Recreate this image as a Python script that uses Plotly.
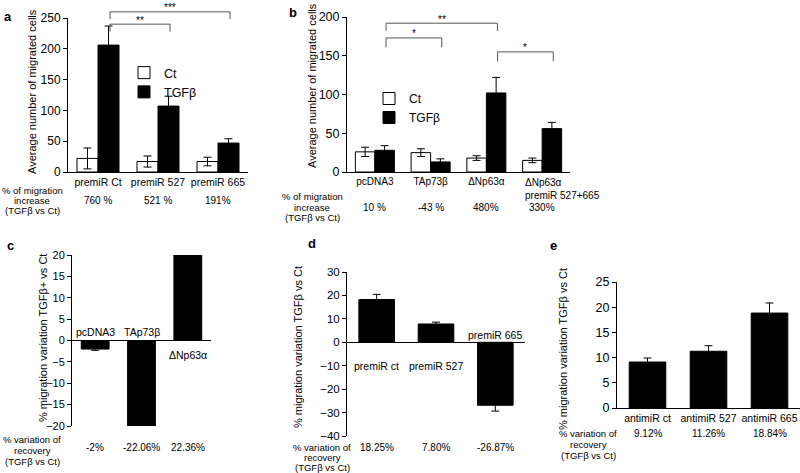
import plotly.graph_objects as go

W, H = 800, 473
FONT = "Liberation Sans, Arial, sans-serif"

# ---------------- data ----------------
a_categories = ["premiR Ct", "premiR 527", "premiR 665"]
a_ct = [22, 17, 17]
a_ct_err = [17, 9, 7]
a_tgf = [206, 107, 47]
a_tgf_err = [31, 16, 7]
a_increase = ["760 %", "521 %", "191%"]
a_ticks = [0, 50, 100, 150, 200, 250]
# significance brackets: (from category, to category, label, bracket level, leg bottom)
a_sig = [(0, 1, "**", 240, 228), (0, 2, "***", 260, 248)]

b_categories = ["pcDNA3", "TAp73β", "ΔNp63α", "ΔNp63α premiR 527+665"]
b_ticklabels = ["pcDNA3", "TAp73β", "ΔNp63α", ""]
b_last_label = "ΔNp63α<br>premiR 527+665"
b_ct = [26, 25, 18, 15]
b_ct_err = [6, 5, 3, 3]
b_tgf = [28, 13, 102, 56]
b_tgf_err = [6, 4, 20, 8]
b_increase = ["10 %", "-43 %", "480%", "330%"]
b_ticks = [0, 50, 100, 150, 200]
b_sig = [(0, 2, "**", 192, 182), (0, 1, "*", 173, 161), (2, 3, "*", 155, 143)]

c_categories = ["pcDNA3", "TAp73β", "ΔNp63α"]
c_values = [-2.0, -22.06, 22.36]
c_err = [0.3, 0, 0]
c_recovery = ["-2%", "-22.06%", "22.36%"]
c_label_y = [1.9, 1.9, -3.5]
c_ticks = [-20, -15, -10, -5, 0, 5, 10, 15, 20]

d_categories = ["premiR ct", "premiR 527", "premiR 665"]
d_values = [18.25, 7.80, -26.87]
d_err = [2.2, 0.8, 2.5]
d_recovery = ["18.25%", "7.80%", "-26.87%"]
d_label_y = [-10.3, -10.3, 3.0]
d_ticks = [-40, -30, -20, -10, 0, 10, 20, 30]

e_categories = ["antimiR ct", "antimiR 527", "antimiR 665"]
e_values = [9.12, 11.26, 18.84]
e_err = [0.8, 1.1, 2.0]
e_recovery = ["9.12%", "11.26%", "18.84%"]
e_ticks = [0, 5, 10, 15, 20, 25]


# ---------------- helpers ----------------
def px_x(p):
    return p / W


def px_y(p):
    return 1 - p / H


def dom_x(p0, p1):
    return [p0 / W, min(p1 / W, 1)]


def dom_y(top, bottom):
    return [1 - bottom / H, 1 - top / H]


def cat_range(cats):
    return [-0.5, len(cats) - 0.5]


def err(arr):
    return dict(type="data", array=arr, color="black", thickness=1, width=4, visible=True)


fig = go.Figure()

# panel a
fig.add_trace(go.Bar(x=a_categories, y=a_ct, error_y=err(a_ct_err), name="Ct",
                     marker=dict(color="white", line=dict(color="black", width=1)),
                     xaxis="x", yaxis="y", legend="legend"))
fig.add_trace(go.Bar(x=a_categories, y=a_tgf, error_y=err(a_tgf_err), name="TGFβ",
                     marker=dict(color="black", line=dict(color="black", width=1)),
                     xaxis="x", yaxis="y", legend="legend"))
# panel b
fig.add_trace(go.Bar(x=b_categories, y=b_ct, error_y=err(b_ct_err), name="Ct",
                     marker=dict(color="white", line=dict(color="black", width=1)),
                     xaxis="x2", yaxis="y2", legend="legend2"))
fig.add_trace(go.Bar(x=b_categories, y=b_tgf, error_y=err(b_tgf_err), name="TGFβ",
                     marker=dict(color="black", line=dict(color="black", width=1)),
                     xaxis="x2", yaxis="y2", legend="legend2"))
# panel c, d, e
for cats, vals, ers, xa, ya in [(c_categories, c_values, c_err, "x3", "y3"),
                                (d_categories, d_values, d_err, "x4", "y4"),
                                (e_categories, e_values, e_err, "x5", "y5")]:
    fig.add_trace(go.Bar(x=cats, y=vals, error_y=err(ers), width=0.6, showlegend=False,
                         marker=dict(color="black", line=dict(color="black", width=1)),
                         xaxis=xa, yaxis=ya))


def yax(size):
    return dict(showline=True, linecolor="black", linewidth=1, ticks="outside", ticklen=4,
                tickcolor="black", showgrid=False, zeroline=False, automargin=False,
                tickfont=dict(family=FONT, size=size, color="black"))


def yax_zero(size):
    d = yax(size)
    d.update(zeroline=True, zerolinecolor="black", zerolinewidth=1)
    return d


def xax_line(size):
    return dict(showline=True, linecolor="black", linewidth=1, ticks="", showgrid=False,
                zeroline=False, automargin=False, tickfont=dict(family=FONT, size=size, color="black"))


xax_none = dict(showline=False, ticks="", showgrid=False, zeroline=False, showticklabels=False,
                automargin=False)

layout = dict(
    template="none",
    width=W, height=H, margin=dict(l=0, r=0, t=0, b=0, pad=0, autoexpand=False),
    paper_bgcolor="white", plot_bgcolor="white",
    barmode="group", bargap=0.3, bargroupgap=0,
    font=dict(family=FONT, color="black"),
    xaxis=dict(domain=dom_x(68, 248), anchor="y", range=cat_range(a_categories), **xax_line(10.5)),
    yaxis=dict(domain=dom_y(18, 172), anchor="x", range=[0, 250], tickvals=a_ticks, **yax(12)),
    xaxis2=dict(domain=dom_x(347, 570), anchor="y2", range=cat_range(b_categories),
                tickvals=b_categories, ticktext=b_ticklabels, **xax_line(10)),
    yaxis2=dict(domain=dom_y(17, 172), anchor="x2", range=[0, 200], tickvals=b_ticks, **yax(12.5)),
    xaxis3=dict(domain=dom_x(72, 211), anchor="y3", range=cat_range(c_categories), **xax_none),
    yaxis3=dict(domain=dom_y(255, 426), anchor="x3", range=[-20, 20], tickvals=c_ticks, **yax_zero(11)),
    xaxis4=dict(domain=dom_x(347, 525), anchor="y4", range=cat_range(d_categories), **xax_none),
    yaxis4=dict(domain=dom_y(272, 436), anchor="x4", range=[-40, 30], tickvals=d_ticks, **yax_zero(11.5)),
    xaxis5=dict(domain=dom_x(617, 800), anchor="y5", range=cat_range(e_categories), **xax_line(10.5)),
    yaxis5=dict(domain=dom_y(282, 408), anchor="x5", range=[0, 25], tickvals=e_ticks, **yax(12.5)),
    legend=dict(x=px_x(124), y=px_y(58), xanchor="left", yanchor="top",
                bgcolor="rgba(0,0,0,0)", font=dict(family=FONT, size=12.5, color="black"),
                tracegroupgap=0),
    legend2=dict(x=px_x(369), y=px_y(84), xanchor="left", yanchor="top",
                 bgcolor="rgba(0,0,0,0)", font=dict(family=FONT, size=12, color="black"),
                 tracegroupgap=0),
)
fig.update_layout(**layout)

annotations = []
shapes = []


def ann(text, x, y, xref="paper", yref="paper", size=10.5, **kw):
    d = dict(text=text, x=x, y=y, xref=xref, yref=yref, showarrow=False,
             xanchor="center", yanchor="middle",
             font=dict(family=FONT, size=size, color="black"))
    d.update(kw)
    annotations.append(d)


# panel letters
for letter, (lx, ly) in zip("abcde", [(8, 17), (293, 13), (10, 245), (312, 243), (553, 245)]):
    ann("<b>%s</b>" % letter, px_x(lx), px_y(ly), size=13)

# y axis titles
for text, (tx, ty) in [("Average number of migrated cells", (32, 92)),
                       ("Average number of migrated cells", (312, 86)),
                       ("% migration variation TGFβ+ vs Ct", (43, 338)),
                       ("% migration variation TGFβ vs Ct", (298, 347)),
                       ("% migration variation TGFβ vs Ct", (563, 349))]:
    ann(text, px_x(tx), px_y(ty), textangle=-90, size=11)

# left side row captions
for lines, cx, ys in [(["% of migration", "increase", "(TGFβ vs Ct)"], 32, [190, 201, 211]),
                      (["% of migration", "increase", "(TGFβ vs Ct)"], 312, [196, 207, 217]),
                      (["% variation of", "recovery", "(TGFβ vs Ct)"], 32, [439, 450, 461]),
                      (["% variation of", "recovery", "(TGFβ vs Ct)"], 322, [447, 457, 467]),
                      (["% variation of", "recovery", "(TGFβ vs Ct)"], 588, [433, 444, 455])]:
    for t, yy in zip(lines, ys):
        ann(t, px_x(cx), px_y(yy), size=9.5)

# row values
for texts, xref, yy in [(a_increase, "x", 201), (b_increase, "x2", 207),
                        (c_recovery, "x3", 447), (d_recovery, "x4", 447), (e_recovery, "x5", 433)]:
    for i, t in enumerate(texts):
        ann(t, i, px_y(yy), xref=xref, size=10)

# b last category label (two lines, left aligned)
ann(b_last_label, 2.66, px_y(175), xref="x2", xanchor="left", yanchor="top", align="left", size=10)

# in-plot category labels for c and d
for i, (t, yv) in enumerate(zip(c_categories, c_label_y)):
    ann(t, i, yv, xref="x3", yref="y3", size=10.5)
for i, (t, yv) in enumerate(zip(d_categories, d_label_y)):
    ann(t, i, yv, xref="x4", yref="y4", size=10.5)

# significance brackets
TGF_OFF = 0.2
for sig, xref, yref, ymax in [(a_sig, "x", "y", 250), (b_sig, "x2", "y2", 200)]:
    for c0, c1, lab, lev, leg in sig:
        x0, x1 = c0 + TGF_OFF, c1 + TGF_OFF
        yl, yb = lev / ymax, leg / ymax
        shapes.append(dict(type="path", xref=xref, yref=yref + " domain",
                           path="M %f,%f L %f,%f L %f,%f L %f,%f" % (x0, yb, x0, yl, x1, yl, x1, yb),
                           line=dict(color="#555555", width=1)))
        ann(lab, (x0 + x1) / 2, yl, xref=xref, yref=yref + " domain", yanchor="middle",
            size=10, yshift=4)

fig.update_layout(annotations=annotations, shapes=shapes)
fig.write_html("out.html", config={"displayModeBar": False},
               post_script="document.body.style.margin='0';document.body.style.overflow='hidden';")
